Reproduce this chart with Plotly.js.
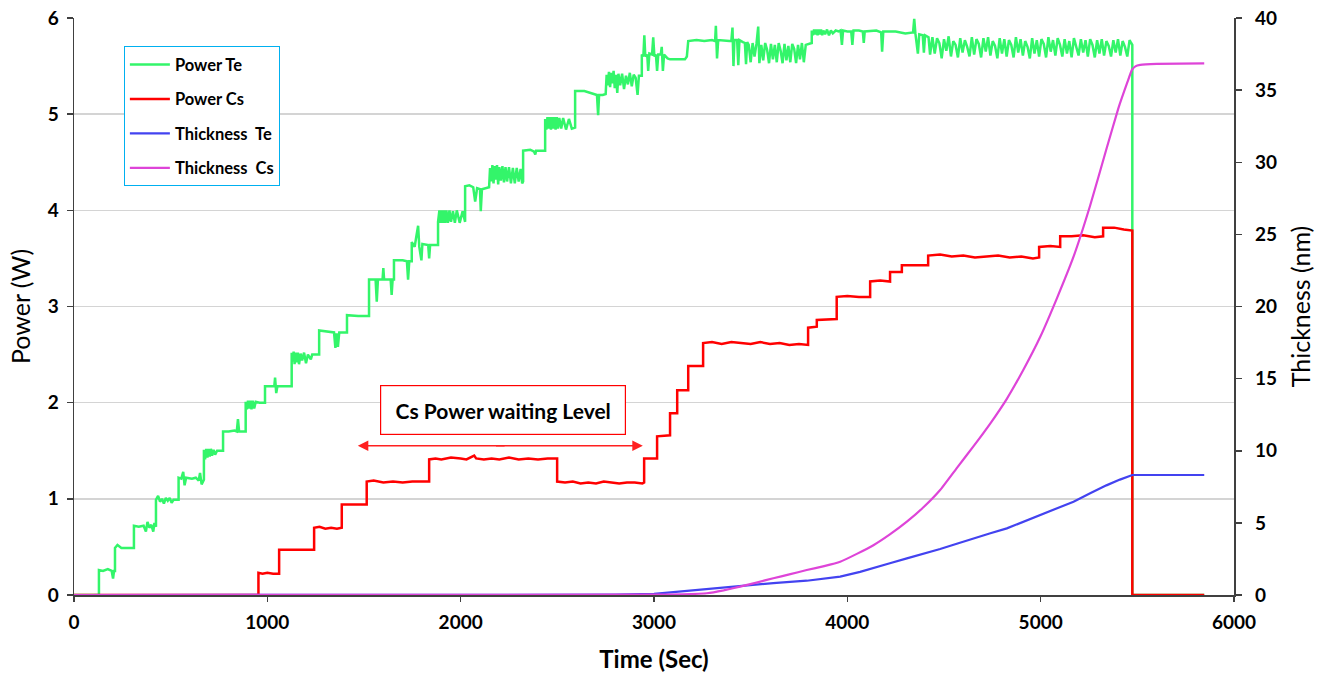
<!DOCTYPE html>
<html>
<head>
<meta charset="utf-8">
<script src="https://cdn.plot.ly/plotly-3.0.1.min.js"></script>
<style>html,body{margin:0;padding:0;background:#fff;}#chart{width:1330px;height:679px;}</style>
</head>
<body>
<div id="chart"></div>
<script>
// ---- Data (time in seconds, power in W, thickness in nm) ----
var seriesNames = ["Power Te", "Power Cs", "Thickness\u00a0 Te", "Thickness\u00a0 Cs"];

var powerTe = [
[0,0],[129,0],[129,0.26],[150,0.25],[175,0.27],[195,0.25],[202,0.17],[207,0.25],[212,0.25],
[212,0.49],[225,0.52],[245,0.49],[310,0.49],
[310,0.72],[335,0.71],[360,0.72],[372,0.66],[380,0.76],[390,0.70],[400,0.73],[410,0.66],[416,0.75],[424,0.71],
[424,0.99],[435,1.03],[445,0.97],[455,1.00],[465,0.95],[475,1.01],[485,0.98],[495,1.01],[505,0.96],[515,0.99],[541,0.99],
[541,1.22],[555,1.21],[565,1.28],[572,1.14],[580,1.22],[610,1.21],[630,1.22],[645,1.19],[652,1.27],[660,1.15],[672,1.20],
[672,1.51],[678,1.41],[684,1.52],[690,1.43],[696,1.52],[702,1.44],[708,1.52],[714,1.45],[722,1.51],[730,1.46],[740,1.50],[771,1.50],
[771,1.70],[800,1.70],[830,1.71],[842,1.70],[848,1.83],[854,1.70],[888,1.70],
[888,2.01],[894,1.93],[900,2.02],[906,1.94],[912,2.02],[918,1.93],[924,2.02],[932,1.94],[940,2.01],[960,2.00],[988,2.00],
[988,2.17],[1020,2.17],[1036,2.17],[1040,2.26],[1046,2.10],[1052,2.17],[1126,2.17],
[1126,2.52],[1131,2.43],[1136,2.53],[1141,2.40],[1146,2.52],[1152,2.42],[1158,2.52],[1164,2.40],[1172,2.51],[1180,2.44],[1190,2.52],[1200,2.41],[1210,2.50],[1225,2.45],[1232,2.50],[1268,2.50],
[1268,2.75],[1300,2.74],[1330,2.73],[1345,2.73],[1352,2.57],[1358,2.72],[1365,2.58],[1372,2.73],[1395,2.73],[1412,2.73],
[1412,2.91],[1470,2.90],[1526,2.90],
[1526,3.28],[1560,3.28],[1566,3.05],[1572,3.28],[1596,3.28],[1600,3.40],[1604,3.28],[1638,3.28],[1643,3.12],[1648,3.28],[1655,3.28],
[1655,3.48],[1700,3.48],[1722,3.47],[1728,3.28],[1734,3.47],[1747,3.47],
[1747,3.67],[1762,3.62],[1770,3.72],[1780,3.84],[1786,3.62],[1797,3.48],[1802,3.65],[1820,3.64],[1832,3.64],[1837,3.50],[1842,3.64],[1883,3.64],
[1883,3.88],[1890,4.00],[1896,3.87],[1902,4.00],[1908,3.87],[1914,4.00],[1920,3.87],[1926,4.00],[1934,3.87],[1942,4.00],[1950,3.88],[1960,3.99],[1970,3.87],[1980,4.00],[1995,3.87],[2010,3.99],[2023,3.88],
[2023,4.25],[2045,4.26],[2065,4.24],[2075,4.09],[2085,4.23],[2100,4.22],[2104,3.99],[2110,4.22],[2147,4.24],
[2152,4.44],[2158,4.30],[2164,4.47],[2170,4.28],[2176,4.46],[2182,4.32],[2188,4.47],[2194,4.27],[2200,4.45],[2208,4.31],[2216,4.46],[2224,4.29],[2232,4.45],[2240,4.30],[2250,4.45],[2260,4.28],[2270,4.44],[2280,4.28],[2290,4.44],[2300,4.30],[2310,4.43],[2318,4.28],[2323,4.30],
[2323,4.62],[2360,4.63],[2380,4.61],[2386,4.58],[2390,4.62],[2437,4.62],
[2437,4.95],[2443,4.84],[2449,4.97],[2455,4.85],[2461,4.97],[2467,4.84],[2473,4.97],[2479,4.85],[2485,4.97],[2491,4.84],[2497,4.97],[2503,4.85],[2510,4.96],[2520,4.85],[2530,4.96],[2545,4.84],[2560,4.95],[2575,4.85],[2592,4.86],
[2592,5.24],[2640,5.24],[2660,5.23],[2690,5.21],[2705,5.20],[2711,4.99],[2716,5.20],[2735,5.20],[2750,5.21],
[2755,5.41],[2761,5.30],[2767,5.44],[2773,5.28],[2779,5.43],[2785,5.32],[2791,5.45],[2797,5.27],[2803,5.41],[2810,5.22],[2816,5.42],[2825,5.30],[2835,5.42],[2845,5.26],[2855,5.40],[2865,5.31],[2875,5.43],[2885,5.29],[2895,5.41],[2905,5.38],[2915,5.20],[2922,5.40],[2937,5.40],
[2937,5.62],[2945,5.60],[2950,5.82],[2955,5.60],[2965,5.62],[2970,5.45],[2976,5.63],[2990,5.62],[2996,5.80],[3002,5.60],[3010,5.62],[3016,5.45],[3022,5.62],[3035,5.62],[3040,5.70],[3046,5.45],[3052,5.62],[3070,5.58],[3083,5.57],[3160,5.57],[3170,5.60],
[3177,5.76],[3220,5.77],[3260,5.76],[3300,5.77],[3316,5.76],[3320,5.92],[3326,5.58],[3332,5.77],[3390,5.76],[3400,5.76],[3406,5.90],[3411,5.50],[3416,5.77],[3430,5.77],[3436,5.51],[3442,5.77],[3460,5.75],[3470,5.74],[3476,5.52],[3482,5.75],
[3490,5.72],[3500,5.54],[3510,5.74],[3520,5.60],[3530,5.73],[3539,5.91],[3545,5.53],[3555,5.72],[3565,5.56],[3575,5.74],[3585,5.67],[3595,5.53],[3605,5.73],[3615,5.57],[3625,5.72],[3635,5.54],[3645,5.74],[3655,5.66],[3665,5.53],[3675,5.73],[3685,5.56],[3695,5.71],[3705,5.54],[3715,5.73],[3725,5.68],[3735,5.53],[3745,5.72],[3755,5.57],[3765,5.74],[3775,5.54],[3785,5.72],[3797,5.73],[3816,5.74],
[3816,5.87],[3822,5.82],[3828,5.88],[3834,5.83],[3840,5.88],[3846,5.82],[3852,5.88],[3858,5.83],[3864,5.88],[3870,5.82],[3876,5.87],[3885,5.83],[3895,5.88],[3905,5.82],[3915,5.87],[3925,5.84],[3940,5.87],[3955,5.86],[3965,5.87],[3972,5.72],[3978,5.87],[4000,5.86],[4020,5.86],[4026,5.72],[4032,5.87],[4060,5.87],[4080,5.86],[4085,5.74],[4090,5.86],[4150,5.87],[4175,5.85],[4180,5.65],[4186,5.86],[4250,5.86],[4300,5.84],[4340,5.85],[4346,5.99],[4352,5.84],[4365,5.63],[4372,5.83],[4390,5.82],[4396,5.64],[4402,5.82],[4420,5.80],
[4428,5.62],[4440,5.80],[4452,5.63],[4464,5.79],[4476,5.74],[4488,5.58],[4500,5.78],[4512,5.66],[4524,5.81],[4536,5.60],[4548,5.76],[4560,5.72],[4572,5.59],[4584,5.79],[4596,5.64],[4608,5.77],[4620,5.70],[4632,5.60],[4644,5.80],[4656,5.62],[4668,5.78],[4680,5.73],[4692,5.59],[4704,5.79],[4716,5.65],[4728,5.80],[4740,5.61],[4752,5.76],[4764,5.71],[4776,5.58],[4788,5.79],[4800,5.63],[4812,5.78],[4824,5.60],[4836,5.77],[4848,5.72],[4860,5.59],[4872,5.80],[4884,5.64],[4896,5.78],[4908,5.61],[4920,5.76],[4932,5.70],[4944,5.58],[4956,5.79],[4968,5.63],[4980,5.77],[4992,5.60],
[5004,5.78],[5016,5.73],[5028,5.59],[5040,5.80],[5052,5.65],[5064,5.77],[5076,5.61],[5088,5.79],[5100,5.72],[5112,5.60],[5124,5.78],[5136,5.63],[5148,5.76],[5160,5.59],[5172,5.79],[5184,5.71],[5196,5.61],[5208,5.78],[5220,5.64],[5232,5.77],[5244,5.60],[5256,5.78],[5268,5.72],[5280,5.59],[5292,5.77],[5304,5.63],[5316,5.78],[5328,5.61],[5340,5.76],[5352,5.71],[5364,5.60],[5376,5.77],[5388,5.64],[5400,5.78],[5412,5.61],[5424,5.76],[5436,5.70],[5448,5.60],[5460,5.77],[5468,5.74],[5474,5.72],
[5474,0],[5846,0]
];

var powerCs = [
[0,0],[954,0],[954,0.23],[975,0.22],[1000,0.23],[1030,0.22],[1061,0.22],
[1061,0.47],[1150,0.47],[1242,0.47],
[1242,0.70],[1270,0.71],[1300,0.69],[1330,0.70],[1360,0.69],[1385,0.70],
[1385,0.94],[1450,0.94],[1514,0.94],
[1514,1.18],[1550,1.19],[1600,1.17],[1650,1.18],[1700,1.17],[1750,1.18],[1800,1.18],[1837,1.18],
[1837,1.41],[1870,1.42],[1900,1.41],[1950,1.43],[2000,1.42],[2030,1.41],[2070,1.45],[2080,1.42],[2120,1.41],[2160,1.42],[2200,1.41],[2250,1.43],[2300,1.41],[2350,1.42],[2400,1.41],[2450,1.42],[2499,1.42],
[2499,1.18],[2540,1.17],[2580,1.18],[2620,1.16],[2660,1.17],[2700,1.16],[2740,1.18],[2780,1.17],[2820,1.16],[2860,1.17],[2900,1.17],[2940,1.16],[2949,1.17],
[2949,1.42],[3016,1.42],[3016,1.65],[3083,1.66],[3083,1.89],[3120,1.89],[3120,2.13],[3177,2.13],[3177,2.38],[3254,2.38],
[3254,2.62],[3300,2.63],[3350,2.61],[3400,2.63],[3450,2.62],[3500,2.61],[3550,2.63],[3600,2.61],[3650,2.62],[3700,2.60],[3750,2.61],[3797,2.60],
[3797,2.78],[3842,2.79],[3842,2.86],[3920,2.87],[3945,2.87],
[3945,3.10],[4000,3.11],[4060,3.10],[4118,3.10],
[4118,3.26],[4170,3.27],[4221,3.26],[4221,3.36],[4282,3.36],[4282,3.43],[4350,3.43],[4418,3.43],
[4418,3.53],[4480,3.54],[4540,3.52],[4600,3.53],[4660,3.51],[4720,3.52],[4780,3.53],[4840,3.51],[4900,3.52],[4960,3.50],[4992,3.51],
[4992,3.62],[5050,3.63],[5101,3.62],[5101,3.73],[5160,3.73],[5220,3.74],[5280,3.72],[5323,3.73],
[5323,3.82],[5380,3.82],[5430,3.80],[5474,3.79],
[5474,0],[5846,0]
];

var thicknessTe = [
[0,0],[2500,0],[2800,0.02],[3000,0.08],[3066,0.16],[3200,0.33],[3300,0.45],[3400,0.57],[3500,0.68],[3617,0.83],
[3790,0.99],[3880,1.12],[3963,1.27],[4066,1.6],[4135,1.85],[4220,2.2],[4308,2.54],[4395,2.86],[4480,3.19],[4566,3.55],
[4652,3.93],[4740,4.28],[4825,4.62],[4910,5.08],[4998,5.55],[5085,6.0],[5170,6.47],[5256,7.05],[5340,7.6],[5410,8.0],
[5474,8.32],[5846,8.32]
];

var thicknessCs = [
[0,0],[3000,0.02],[3150,0.05],[3273,0.12],[3360,0.32],[3445,0.58],[3530,0.86],[3617,1.16],[3700,1.43],[3790,1.73],
[3880,2.0],[3963,2.3],[4049,2.85],[4135,3.45],[4220,4.2],[4308,5.08],[4395,6.1],[4480,7.28],[4566,8.8],[4652,10.3],
[4740,11.9],[4825,13.6],[4910,15.6],[4998,17.9],[5085,20.6],[5170,23.45],[5256,27.0],[5342,31.0],[5401,33.7],
[5450,35.6],[5472,36.4],[5490,36.65],[5515,36.75],[5600,36.82],[5846,36.86]
];

var xTicks = [0,1000,2000,3000,4000,5000,6000];
var powerTicks = [0,1,2,3,4,5,6];
var thicknessTicks = [0,5,10,15,20,25,30,35,40];
var waitingLabel = "Cs Power waiting Level";
var waitingSpan = [1468, 2942];   // arrow extent (s)
var waitingArrowLevel = 1.553;    // W
var waitingBoxCenter = [2220, 1.92];

// ---- Build traces ----
function xs(a){return a.map(function(p){return p[0];});}
function ys(a){return a.map(function(p){return p[1];});}

var FONT = "Lato, 'Open Sans', sans-serif";

var traces = [
  {x: xs(powerTe), y: ys(powerTe), name: seriesNames[0], type:"scatter", mode:"lines",
   line:{color:"#33F56A", width:2.5}, legendgroup:"g1", yaxis:"y"},
  {x: xs(powerCs), y: ys(powerCs), name: seriesNames[1], type:"scatter", mode:"lines",
   line:{color:"#FF0000", width:2.5}, legendgroup:"g2", yaxis:"y"},
  {x: xs(thicknessTe), y: ys(thicknessTe), name: seriesNames[2], type:"scatter", mode:"lines",
   line:{color:"#4343F0", width:2.2}, legendgroup:"g3", yaxis:"y2"},
  {x: xs(thicknessCs), y: ys(thicknessCs), name: seriesNames[3], type:"scatter", mode:"lines",
   line:{color:"#DE44D8", width:2.2, shape:"spline", smoothing:0.35}, legendgroup:"g4", yaxis:"y2"},
  // empty trace so the tick-mark axis (yaxis3) is drawn
  {x:[], y:[], yaxis:"y3", type:"scatter", mode:"lines", showlegend:false, hoverinfo:"skip"}
];

var axisLine = "#404040";
var tickFont = {family:FONT, size:19, weight:"bold", color:"#000"};
var mid = (waitingSpan[0]+waitingSpan[1])/2;
var layout = {
  width:1330, height:679,
  margin:{l:74, r:96, t:18, b:84},
  paper_bgcolor:"#fff", plot_bgcolor:"#fff",
  font:{family:FONT, color:"#000"},
  showlegend:true,
  legend:{x:0.043, y:0.951, xanchor:"left", yanchor:"top",
    bordercolor:"#00B0F0", borderwidth:1, bgcolor:"#fff",
    font:{family:FONT, size:16.5, color:"#000", weight:"bold"},
    tracegroupgap:10, itemwidth:40},
  xaxis:{range:[0,6000], tickvals:xTicks, ticktext:xTicks.map(String),
    showline:true, linecolor:axisLine, linewidth:1.5, ticks:"outside", ticklen:5, tickcolor:axisLine, tickwidth:1.5,
    showgrid:false, zeroline:false, layer:"below traces", ticklabelstandoff:5,
    tickfont:tickFont,
    title:{text:"Time (Sec)", font:{family:FONT, size:24, weight:"bold", color:"#000"}, standoff:19}},
  yaxis:{range:[0,6], tickvals:powerTicks, ticktext:powerTicks.map(String),
    showline:true, linecolor:axisLine, linewidth:1.5, ticks:"outside", ticklen:6, tickcolor:axisLine, tickwidth:1.5,
    showgrid:true, gridcolor:"#D4D4D4", gridwidth:1.5, zeroline:false, layer:"below traces", ticklabelstandoff:4,
    tickfont:tickFont,
    title:{text:"Power (W)", font:{family:FONT, size:25, weight:"normal", color:"#000"}, standoff:10}},
  // thickness axis: tick labels, pushed a little to the right of the axis line
  yaxis2:{range:[0,40], tickvals:thicknessTicks, ticktext:thicknessTicks.map(String),
    overlaying:"y", side:"right", anchor:"free", position:1, shift:20,
    showline:false, ticks:"",
    showgrid:false, zeroline:false, layer:"below traces",
    tickfont:tickFont},
  // thickness axis: visible line, short tick marks and title
  yaxis3:{range:[0,40], tickvals:thicknessTicks, overlaying:"y", side:"right", showticklabels:false,
    showline:true, linecolor:axisLine, linewidth:1.5, ticks:"outside", ticklen:6, tickcolor:axisLine, tickwidth:1.5,
    showgrid:false, zeroline:false, layer:"below traces",
    title:{text:"Thickness (nm)", font:{family:FONT, size:25, weight:"normal", color:"#000"}, standoff:52}},
  annotations:[
    {x:waitingBoxCenter[0], y:waitingBoxCenter[1], xref:"x", yref:"y", text:"<b>"+waitingLabel+"</b>",
     showarrow:false, font:{family:FONT, size:21, color:"#000"},
     bordercolor:"#FF0000", borderwidth:1.2, borderpad:1, bgcolor:"#fff", width:242, height:46},
    {x:waitingSpan[0], y:waitingArrowLevel, ax:mid+30, ay:waitingArrowLevel,
     xref:"x", yref:"y", axref:"x", ayref:"y", text:"", showarrow:true,
     arrowhead:2, arrowsize:1.4, arrowwidth:1.5, arrowcolor:"#FF2020", standoff:0, startstandoff:0},
    {x:waitingSpan[1], y:waitingArrowLevel, ax:mid-30, ay:waitingArrowLevel,
     xref:"x", yref:"y", axref:"x", ayref:"y", text:"", showarrow:true,
     arrowhead:2, arrowsize:1.4, arrowwidth:1.5, arrowcolor:"#FF2020", standoff:0, startstandoff:0}
  ]
};

Plotly.newPlot("chart", traces, layout, {displayModeBar:false, staticPlot:true});
</script>
</body>
</html>
